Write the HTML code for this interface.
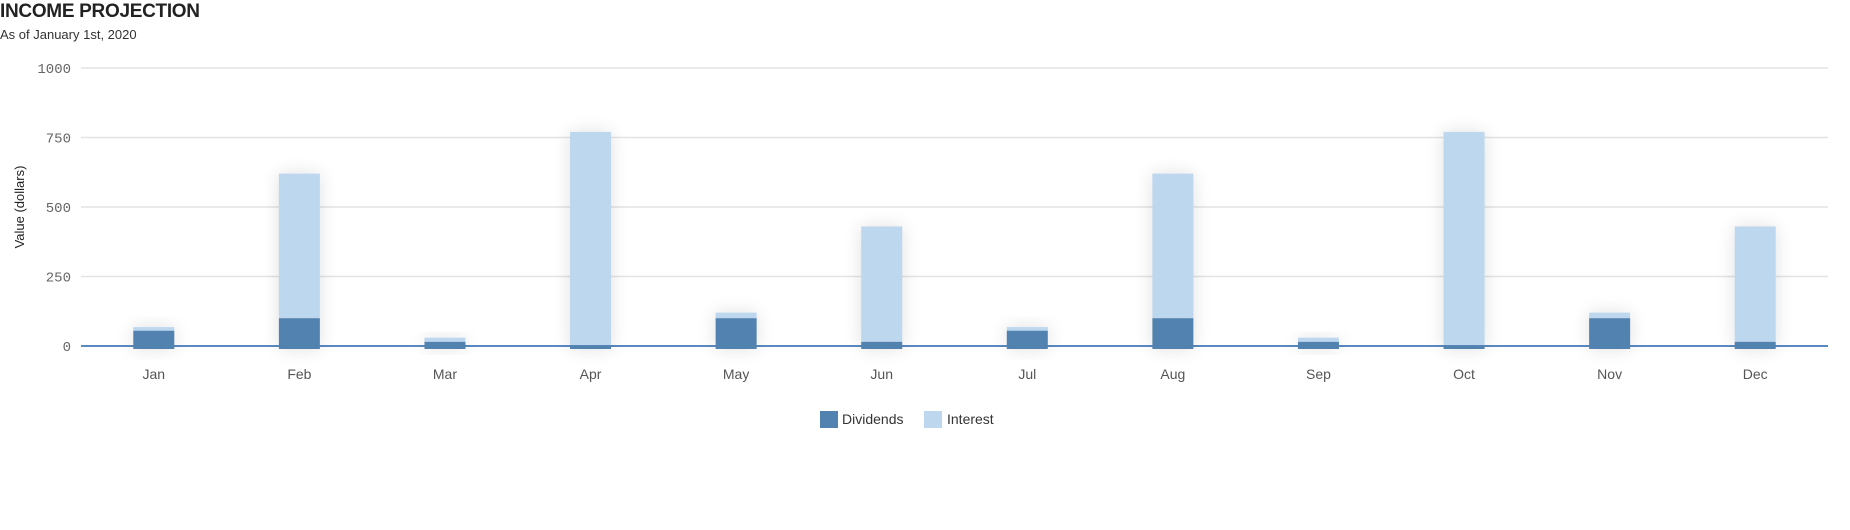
<!DOCTYPE html>
<html><head><meta charset="utf-8"><style>
body{margin:0;background:#fff;width:1850px;height:530px;overflow:hidden;font-family:"Liberation Sans",sans-serif}
#title{position:absolute;left:0;top:1px;font-size:19px;font-weight:bold;color:#222;letter-spacing:-0.3px}
#sub{position:absolute;left:0;top:27px;font-size:13px;color:#333}
svg{position:absolute;left:0;top:0}
</style></head><body>
<div id="title">INCOME PROJECTION</div>
<div id="sub">As of January 1st, 2020</div>
<svg id="chart" width="1850" height="530">
<defs><filter id="sh" x="-100%" y="-50%" width="300%" height="200%"><feGaussianBlur stdDeviation="9"/></filter></defs>
</svg>
<script>
const categories=["Jan","Feb","Mar","Apr","May","Jun","Jul","Aug","Sep","Oct","Nov","Dec"];
const dividends=[55,100,15,3,100,15,55,100,15,3,100,15];
const interest=[13,520,15,767,20,415,13,520,15,767,20,415];
const yTicks=[0,250,500,750,1000];
const seriesNames=["Dividends","Interest"];
const L=81,R=1828,T=68,B=346,yMax=1000;
const band=(R-L)/categories.length,bw=41;
const y=v=>B-(v/yMax)*(B-T);
const xc=i=>L+band*(i+0.5);
const svg=document.getElementById('chart');
const NS='http://www.w3.org/2000/svg';
function mk(t,a){const e=document.createElementNS(NS,t);for(const k in a)e.setAttribute(k,a[k]);svg.appendChild(e);return e;}
yTicks.forEach(v=>{
 const g=mk('line',{x1:L,x2:R,y1:y(v),y2:y(v),stroke:v===0?'#5a8ac0':'#e3e3e3','stroke-width':v===0?2:1.5});
 
 
 const t=mk('text',{x:71,y:y(v)+5,'text-anchor':'end','font-size':14,fill:'#666','font-family':'Liberation Mono, monospace'});
 t.textContent=v;
 
 
});
const yl=mk('text',{x:0,y:0,transform:'translate(24,207) rotate(-90)','text-anchor':'middle','font-size':13,fill:'#222'});
yl.textContent='Value (dollars)';


categories.forEach((c,i)=>{
 const tot=dividends[i]+interest[i];
 const x=xc(i)-bw/2;
 const s=mk('rect',{x:x,y:y(tot),width:bw,height:B+3-y(tot),fill:'#000',opacity:0.12,filter:'url(#sh)'});
 
 
 const ib=mk('rect',{x:x,y:y(tot),width:bw,height:y(dividends[i])-y(tot),fill:'#bdd7ef'});
 
 
 const db=mk('rect',{x:x,y:y(dividends[i]),width:bw,height:B+3-y(dividends[i]),fill:'#5282b0'});
 
 
 const t=mk('text',{x:xc(i),y:379,'text-anchor':'middle','font-size':14,fill:'#555'});
 t.textContent=c;
 
 
});
const leg=[[820,'#5282b0',842],[924,'#bdd7ef',947]];
leg.forEach((l,i)=>{
 const r=mk('rect',{x:l[0],y:411,width:18,height:17,fill:l[1]});
 
 
 const t=mk('text',{x:l[2],y:424,'font-size':14,fill:'#333'});
 t.textContent=seriesNames[i];
 
 
});
</script>
</body></html>
